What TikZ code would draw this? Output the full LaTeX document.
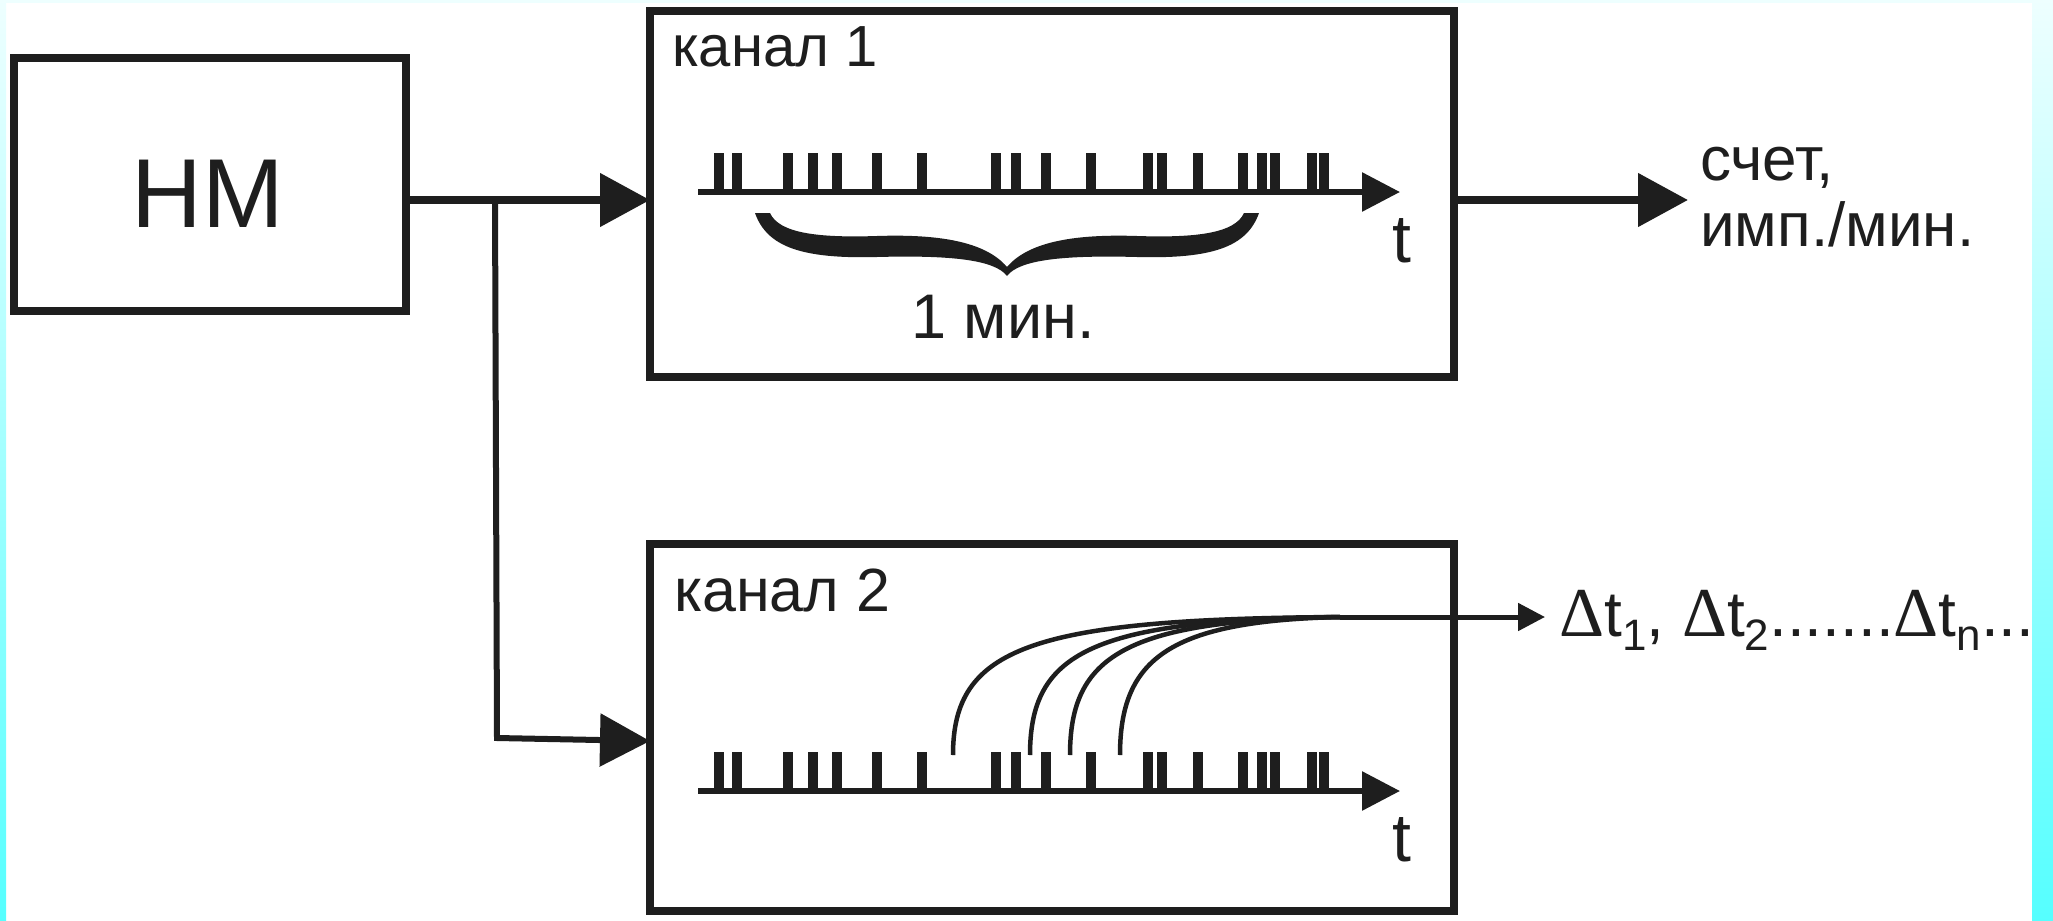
\documentclass[tikz,border=0pt]{standalone}
\usepackage{fontspec}
\setmainfont{Liberation Sans}
\newfontfamily\dfont{Liberation Serif}
\usetikzlibrary{arrows.meta}
\definecolor{ink}{HTML}{1E1E1E}
\definecolor{cyantop}{HTML}{EEFFFF}
\definecolor{cyanbot}{HTML}{55FFFF}
\newcommand{\fs}[1]{\fontsize{#1bp}{#1bp}\selectfont}
\newcommand{\dsym}{{\dfont\fs{70}Δ}}
\newcommand{\subx}[1]{\raisebox{-14bp}{\fs{44}#1}}
\begin{document}
\begin{tikzpicture}[x=1bp,y=-1bp,
  box/.style={draw=ink,line width=8bp,inner sep=0pt,outer sep=0pt},
  txt/.style={text=ink,inner sep=0pt,font=\fs{58}},
  bigarr/.style={draw=ink,line width=8bp,-{Triangle[length=50bp,width=52bp]}},
  brarr/.style={draw=ink,line width=6bp,-{Triangle[length=50bp,width=52bp]}},
  axisarr/.style={draw=ink,line width=6bp,-{Triangle[length=38bp,width=38bp]}},
  smallarr/.style={draw=ink,line width=5bp,-{Triangle[length=27bp,width=27bp]}},
  curveline/.style={draw=ink,line width=4.5bp},
  pulse/.style={fill=ink}]
\useasboundingbox (0,0) rectangle (2053,921);
\fill[white] (0,0) rectangle (2053,921);
\fill[cyantop] (0,0) rectangle (2053,3);
\shade[top color=cyantop,bottom color=cyanbot] (0,0) rectangle (6,921);

% boxes
\node[box,minimum width=392bp,minimum height=253bp] (nm) at (210,184.5) {};
\node[box,minimum width=804bp,minimum height=366bp] (ch1) at (1052,194) {};
\node[box,minimum width=804bp,minimum height=367bp] (ch2) at (1052,727.5) {};

% texts
\node[text=ink,inner sep=0pt,anchor=base,font=\fs{98}] (nmtext) at (208,227) {НМ};
\node[txt,anchor=base west] (k1) at (672,66) {канал 1};
\node[txt,anchor=base west,font=\fs{61}] (k2) at (674,611) {канал 2};
\node[txt,anchor=base west,font=\fs{63}] (min) at (911,338) {1 мин.};
\node[txt,anchor=base,font=\fs{68}] (t1) at (1402,262) {t};
\node[txt,anchor=base,font=\fs{68}] (t2) at (1402,861) {t};
\node[txt,anchor=base west,font=\fs{62}] (cnt1) at (1700,180) {счет,};
\node[txt,anchor=base west,font=\fs{62}] (cnt2) at (1700,246) {имп./мин.};
\node[txt,anchor=base west,font=\fs{64}] (dt) at (1559,636) {\dsym t\subx{1}, \dsym t\subx{2}.......\dsym t\subx{n}...};

% helper coordinates
\coordinate (y200) at (0,200);
\coordinate (y741) at (0,741);
\coordinate (br) at (495,200);
\coordinate (brdown) at (497,738);
\coordinate (outend) at (1688,200);
\coordinate (a1s) at (698,192);
\coordinate (a1e) at (1400,192);
\coordinate (a2s) at (698,791);
\coordinate (a2e) at (1400,791);
\coordinate (merge) at (1340,617);

% connectors
\draw[bigarr] (nm.east |- y200) -- (ch1.west |- y200);
\draw[brarr] (br) -- (brdown) -- (ch2.west |- y741);
\draw[bigarr] (ch1.east |- y200) -- (outend);

% pulse trains
\foreach \x in {714,732,783,808,832,872,917,991,1011,1041,1086,1142.5,1157,1192.5,1238,1257,1270,1307,1319} {
  \fill[pulse] (\x,153) rectangle ++(10,39);
  \fill[pulse] (\x,752) rectangle ++(10,39);
}
\draw[axisarr] (a1s) -- (a1e);
\draw[axisarr] (a2s) -- (a2e);

% brace
\fill[ink,shift={(1007,213)}]
  (-252,0) .. controls (-240,34) and (-205,46) .. (-130,44)
  .. controls (-55,42) and (-12,47) .. (0,63)
  .. controls (12,47) and (55,42) .. (130,44)
  .. controls (205,46) and (240,34) .. (252,0)
  -- (237,0)
  .. controls (228,20) and (190,25) .. (130,23)
  .. controls (70,21) and (22,28) .. (0,54)
  .. controls (-22,28) and (-70,21) .. (-130,23)
  .. controls (-190,25) and (-228,20) .. (-237,0)
  -- cycle;

% interval curves
\coordinate (c1) at (953,755);
\coordinate (c2) at (1030,755);
\coordinate (c3) at (1070,755);
\coordinate (c4) at (1120,755);
\draw[curveline] (c1) .. controls (953,648) and (1030,619) .. (merge);
\draw[curveline] (c2) .. controls (1030,653) and (1090,620) .. (merge);
\draw[curveline] (c3) .. controls (1070,656) and (1125,620) .. (merge);
\draw[curveline] (c4) .. controls (1120,658) and (1170,621) .. (merge);
\draw[smallarr] (merge) -- ([xshift=-14bp]dt.west |- merge);

% right strip
\shade[top color=cyantop,bottom color=cyanbot] (2032,0) rectangle (2053,921);
\end{tikzpicture}
\end{document}
